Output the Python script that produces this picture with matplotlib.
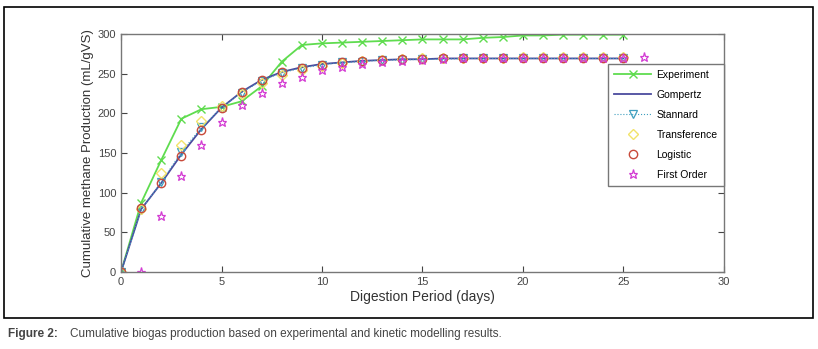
import numpy as np
import matplotlib.pyplot as plt
from matplotlib.patches import Rectangle

days = list(range(0, 26))
days_fo = list(range(1, 27))

experiment = [0, 87, 141, 193, 205, 208, 215, 234, 265, 286, 288, 289, 290, 291, 292, 293,
              293, 293, 295, 296, 298, 298, 299, 299, 299, 299]
gompertz = [0, 79, 112, 148, 180, 207, 227, 242, 252, 258, 262, 264, 266, 267, 268, 268,
            269, 269, 269, 269, 269, 269, 269, 269, 269, 269]
stannard = [0, 78, 113, 151, 182, 207, 226, 241, 251, 257, 261, 264, 265, 267, 267, 268,
            268, 269, 269, 269, 269, 269, 269, 269, 269, 269]
transference = [0, 79, 124, 160, 190, 209, 224, 238, 248, 255, 260, 263, 266, 267, 268, 269,
                270, 270, 270, 270, 271, 271, 271, 271, 271, 271]
logistic = [0, 80, 112, 146, 179, 206, 227, 242, 252, 257, 261, 264, 266, 267, 268, 268,
            269, 269, 269, 269, 269, 269, 269, 269, 269, 269]
first_order = [0, 70, 121, 160, 189, 210, 226, 238, 246, 254, 258, 262, 264, 266, 267, 268,
               269, 269, 269, 269, 269, 269, 269, 269, 269, 271]

plt.rcParams['font.family'] = ['Liberation Sans', 'DejaVu Sans']

fig = plt.figure(figsize=(8.18, 3.49), dpi=100)
ax = fig.add_axes([0.148, 0.221, 0.737, 0.682])

# outer frame of the figure panel
fig.patches.append(Rectangle((0.005, 0.089), 0.989, 0.891, transform=fig.transFigure,
                             fill=False, edgecolor='black', linewidth=1.2))

ax.plot(days, experiment, '-x', color='#5fdc4f', lw=1.3, ms=6, mew=1.0, label='Experiment')
ax.plot(days, gompertz, '-', color='#4b4b9e', lw=1.3, label='Gompertz')
ax.plot(days, stannard, ':v', color='#3f9fbf', lw=0.8, ms=5.5, mfc='none', mew=0.9,
        label='Stannard')
ax.plot(days, transference, 'D', color='#f2e36a', ls='none', ms=5, mfc='none', mew=1.0,
        label='Transference')
ax.plot(days, logistic, 'o', color='#c84a3a', ls='none', ms=6, mfc='none', mew=1.0,
        label='Logistic')
ax.plot(days_fo, first_order, '*', color='#d33cd3', ls='none', ms=6.5, mfc='none', mew=0.9,
        label='First Order')

ax.set_xlim(0, 30)
ax.set_ylim(0, 300)
ax.set_xticks(range(0, 31, 5))
ax.set_yticks(range(0, 301, 50))
ax.tick_params(direction='in', top=True, right=True, labelsize=8, colors='#444444',
               length=4, width=0.8)
for sp in ax.spines.values():
    sp.set_color('#777777')
    sp.set_linewidth(1.0)

ax.set_xlabel('Digestion Period (days)', fontsize=10, color='#333333', labelpad=2)
ax.set_ylabel('Cumulative methane Production (mL/gVS)', fontsize=9.5, color='#333333',
              labelpad=3)

leg = ax.legend(loc='upper right', bbox_to_anchor=(1.0, 0.874), fontsize=7.5, fancybox=False,
                framealpha=1, edgecolor='#777777', borderpad=0.6, labelspacing=0.95,
                handlelength=3.6, handletextpad=0.5, borderaxespad=0)
leg.get_frame().set_linewidth(1.0)

fig.text(0.010, 0.035, 'Figure 2:', fontsize=8.5, fontweight='bold', color='#444444',
         family=['Liberation Sans Narrow', 'Liberation Sans', 'DejaVu Sans'])
fig.text(0.085, 0.035, 'Cumulative biogas production based on experimental and kinetic modelling results.',
         fontsize=8.5, color='#444444',
         family=['Liberation Sans Narrow', 'Liberation Sans', 'DejaVu Sans'])

fig.savefig('out.png', dpi=100)
